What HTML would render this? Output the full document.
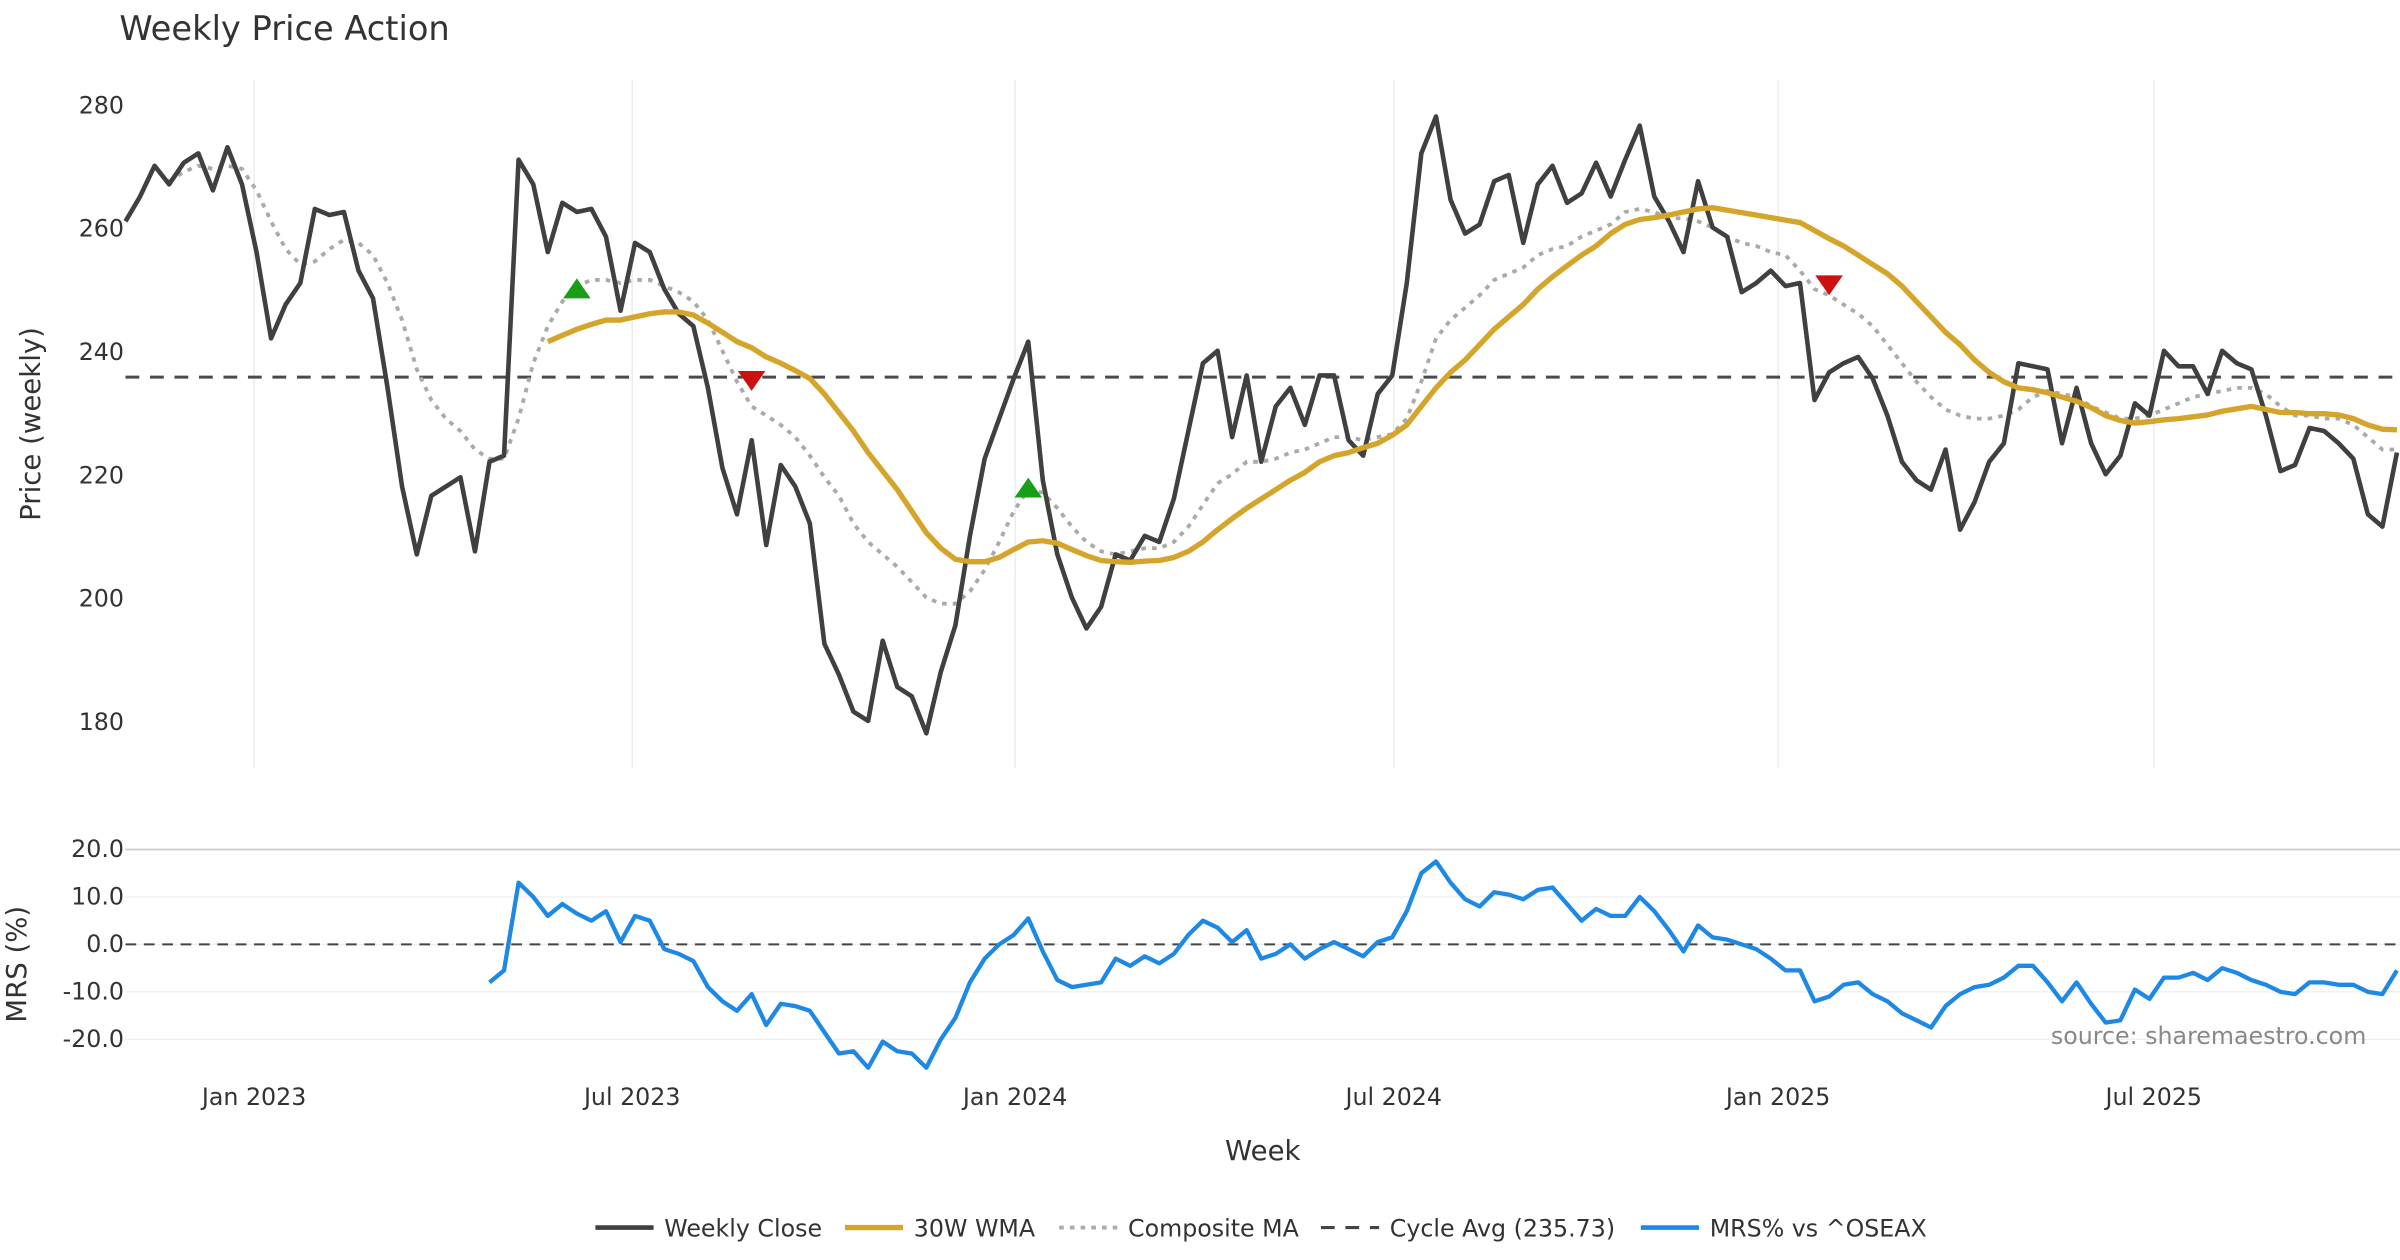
<!DOCTYPE html>
<html><head><meta charset="utf-8"><style>
html,body{margin:0;padding:0;background:#fff}
svg{display:block;font-family:"DejaVu Sans","Liberation Sans",sans-serif}
</style></head><body>
<svg id="chart" width="2400" height="1260" viewBox="0 0 1568 823.2" preserveAspectRatio="none" xmlns="http://www.w3.org/2000/svg">
<rect width="1568" height="823.2" fill="#fff"/>
<text x="78" y="26" font-size="22" fill="#333">Weekly Price Action</text>
<g id="grid"></g>
<g id="price"></g>
<g id="mrs"></g>
<text transform="translate(26,277) rotate(-90)" text-anchor="middle" font-size="18" fill="#333">Price (weekly)</text>
<text transform="translate(17,630) rotate(-90)" text-anchor="middle" font-size="18" fill="#333">MRS (%)</text>
<text x="825" y="758" text-anchor="middle" font-size="18" fill="#333">Week</text>
<text x="1546" y="682" text-anchor="end" font-size="15.5" fill="#888">source: sharemaestro.com</text>
<g id="legend"></g>
</svg>
<script>
const closeVals=[261,265,270,267,270.5,272,266,273,267,256,242,247.5,251,263,262,262.5,253,248.5,234,218,207,216.5,218,219.5,207.5,222,223,271,267,256,264,262.5,263,258.5,246.5,257.5,256,250,246,244,234,221,213.5,225.5,208.5,221.5,218,212,192.5,187.5,181.5,180,193,185.5,184,178,188,195.5,210,222.5,229,235.5,241.5,219,207,200,195,198.5,207,206,210,209,216,227,238,240,226,236,222,231,234,228,236,236,225.5,223,233,236,251,272,278,264.5,259,260.5,267.5,268.5,257.5,267,270,264,265.5,270.5,265,271,276.5,265,261,256,267.5,260,258.5,249.5,251,253,250.5,251,232,236.5,238,239,235.5,229.5,222,219,217.5,224,211,215.5,222,225,238,237.5,237,225,234,225,220,223,231.5,229.5,240,237.5,237.5,233,240,238,237,229.5,220.5,221.5,227.5,227,225,222.5,213.5,211.5,223.5];
const wmaStart=29;
const wmaVals=[241.5,242.5,243.5,244.3,245,245,245.5,246,246.3,246.3,245.8,244.5,243,241.5,240.5,239,238,236.8,235.5,233,230,227,223.5,220.5,217.5,214,210.5,208,206.2,205.8,205.8,206.5,207.8,209,209.2,208.8,207.8,206.8,206,205.8,205.7,205.9,206,206.5,207.5,209,211,212.8,214.5,216,217.5,219,220.3,222,223,223.5,224.3,225,226.3,228,231,234,236.5,238.5,241,243.5,245.5,247.5,250,252,253.8,255.5,257,259,260.5,261.3,261.6,262,262.5,263,263.2,262.8,262.4,262,261.6,261.2,260.8,259.5,258.2,257,255.5,254,252.5,250.5,248,245.5,243,241,238.5,236.5,235,234,233.7,233.2,232.5,231.8,230.8,229.5,228.7,228.3,228.5,228.8,229,229.3,229.6,230.2,230.6,231,230.5,230,230,229.8,229.8,229.6,229,228,227.3,227.2];
const compStart=3;
const compVals=[267.5,269,270,269.5,270,269.5,266,261,256.5,254,254.5,256.5,258,257.5,255.5,251,245,237,232,229,227,224,222.5,222.5,229,238,244,248,250.5,251.5,251.5,251,251.5,251.5,250.5,249.5,248,245,240,235,231,229.5,228,226,223,219.5,216.5,212,209,207,205,202.5,200,199,199,201,204.5,209,214,217.5,217,214.5,211.5,209,207.5,207,207.5,208,208,209,211.5,215,218.5,220,222,222,222.5,223.5,224,225,226,226,225.5,226,226.5,229,235,242,245,247,249,251.5,252.5,253.5,255.5,256.5,257,258.5,259.5,260.5,262.5,263,262.5,261.5,261.5,261,260,258.5,257.5,257,256,255.5,253,250,249,247.5,246,244,241,238,235,232.5,230.5,229.5,229,229,229.5,230.5,232.5,233.5,233,232.5,231,230,229,229,229.5,230.5,231.5,232.5,233,233.5,234,234,233,231,229.5,229.5,229,229,228,226,224,224];
const cycleAvg=235.73;
const signalIdx=[31,43,62,117];
const signalVals=[250,235,217.7,250.5];
const signalType=["buy","sell","buy","sell"];
const mrsStart=25;
const mrsVals=[-8,-5.5,13,10,6,8.5,6.5,5,7,0.5,6,5,-1,-2,-3.5,-9,-12,-14,-10.5,-17,-12.5,-13,-14,-18.5,-23,-22.5,-26,-20.5,-22.5,-23,-26,-20,-15.5,-8,-3,0,2,5.5,-1.5,-7.5,-9,-8.5,-8,-3,-4.5,-2.5,-4,-2,2,5,3.5,0.5,3,-3,-2,0,-3,-1,0.5,-1,-2.5,0.5,1.5,7,15,17.5,13,9.5,8,11,10.5,9.5,11.5,12,8.5,5,7.5,6,6,10,7,3,-1.5,4,1.5,1,0,-1,-3,-5.5,-5.5,-12,-11,-8.5,-8,-10.5,-12,-14.5,-16,-17.5,-13,-10.5,-9,-8.5,-7,-4.5,-4.5,-8,-12,-8,-12.5,-16.5,-16,-9.5,-11.5,-7,-7,-6,-7.5,-5,-6,-7.5,-8.5,-10,-10.5,-8,-8,-8.5,-8.5,-10,-10.5,-5.5];
const priceTicks=[280,260,240,220,200,180];
const mrsTicks=[20,10,0,-10,-20];
const xTickIdx=[8.83,34.8,61.1,87.1,113.5,139.3];
const xTickLabels=["Jan 2023","Jul 2023","Jan 2024","Jul 2024","Jan 2025","Jul 2025"];

const NS="http://www.w3.org/2000/svg";
const N=closeVals.length;
const X=i=>82+i*(1484/(N-1));
const Yp=v=>68+(280-v)*4.03;
const Ym=v=>617-v*3.1;
function mk(tag,attrs,parent){const e=document.createElementNS(NS,tag);for(const k in attrs)e.setAttribute(k,attrs[k]);parent.appendChild(e);return e;}
const grid=document.getElementById('grid'),pg=document.getElementById('price'),mg=document.getElementById('mrs'),lg=document.getElementById('legend');

xTickIdx.forEach((t,k)=>{
  const l=mk('line',{x1:X(t),x2:X(t),y1:52,y2:502,stroke:'#ececec','stroke-width':1},grid);
  
  
  const tx=mk('text',{x:X(t),y:722,'text-anchor':'middle','font-size':15.5,fill:'#333'},grid);
  tx.textContent=xTickLabels[k];
  
  
});
priceTicks.forEach(v=>{
  const tx=mk('text',{x:81,y:Yp(v)+6,'text-anchor':'end','font-size':15.5,fill:'#333'},grid);
  tx.textContent=v;
  
  
});
mrsTicks.forEach(v=>{
  const l=mk('line',{x1:82,x2:1568,y1:Ym(v),y2:Ym(v),stroke:v===20?'#ccc':'#eee','stroke-width':v===20?1.2:0.8},grid);
  
  
  const tx=mk('text',{x:81,y:Ym(v)+5,'text-anchor':'end','font-size':15.5,fill:'#333'},grid);
  tx.textContent=v.toFixed(1);
  
  
});
function pts(vals,start,Y){return vals.map((v,i)=>X(i+start).toFixed(1)+','+Y(v).toFixed(1)).join(' ');}
const cyc=mk('line',{x1:82,x2:1568,y1:Yp(cycleAvg),y2:Yp(cycleAvg),stroke:'#4a4a4a','stroke-width':2,'stroke-dasharray':'9,7'},pg);


const comp=mk('polyline',{points:pts(compVals,compStart,Yp),fill:'none',stroke:'#aaa','stroke-width':2.5,'stroke-dasharray':'3,4'},pg);


const cl=mk('polyline',{points:pts(closeVals,0,Yp),fill:'none',stroke:'#404040','stroke-width':3,'stroke-linejoin':'round'},pg);


const wm=mk('polyline',{points:pts(wmaVals,wmaStart,Yp),fill:'none',stroke:'#d4a52a','stroke-width':3.5,'stroke-linejoin':'round'},pg);


signalIdx.forEach((s,k)=>{
  const x=X(s),y=Yp(signalVals[k]);
  const p=signalType[k]==='buy'?`${x-9},${y+6} ${x+9},${y+6} ${x},${y-7}`:`${x-9},${y-7} ${x+9},${y-7} ${x},${y+6}`;
  const m=mk('polygon',{points:p,fill:signalType[k]==='buy'?'#1a9e1a':'#cc1111'},pg);
  
  
});
const z=mk('line',{x1:82,x2:1568,y1:Ym(0),y2:Ym(0),stroke:'#444','stroke-width':1.3,'stroke-dasharray':'7,5'},mg);


const ml=mk('polyline',{points:pts(mrsVals,mrsStart,Ym),fill:'none',stroke:'#1e88e5','stroke-width':2.8,'stroke-linejoin':'round'},mg);



const legendLabels=["Weekly Close","30W WMA","Composite MA","Cycle Avg (235.73)","MRS% vs ^OSEAX"];
const legendX=[389,552,692,863,1072];
const legendStyle=[['#404040',3,''],['#d4a52a',3.5,''],['#aaa',2.5,'3,4'],['#444',2,'9,7'],['#1e88e5',3,'']];
legendLabels.forEach((t,k)=>{
  const g=mk('g',{},lg);
  
  
  const st=legendStyle[k];
  const a={x1:legendX[k],x2:legendX[k]+38,y1:802,y2:802,stroke:st[0],'stroke-width':st[1]};
  if(st[2])a['stroke-dasharray']=st[2];
  mk('line',a,g);
  const tx=mk('text',{x:legendX[k]+45,y:808,'font-size':15.5,fill:'#333'},g);
  tx.textContent=t;
});
</script>
</body></html>
